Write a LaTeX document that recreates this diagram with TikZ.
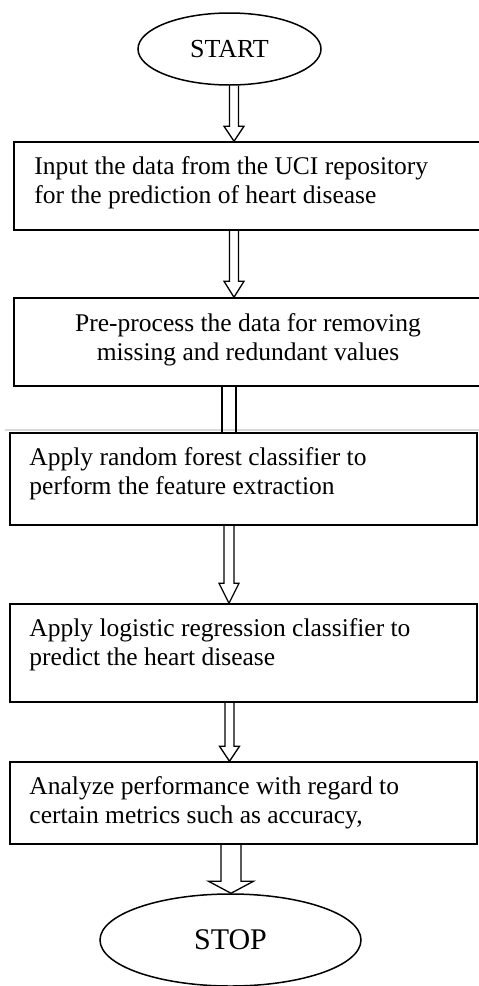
\documentclass[tikz,border=0pt]{standalone}
\usepackage{fontspec}
\setmainfont{Liberation Serif}
\usetikzlibrary{shapes.geometric,calc}
\tikzset{
  boxnode/.style={draw, rectangle, line width=1.5pt, inner sep=0pt},
  txt/.style={inner sep=0pt, anchor=north west, align=left, font=\fontsize{25.5}{29}\selectfont},
  term/.style={draw, ellipse, line width=1.5pt, inner sep=0pt},
  hollow/.style={draw, line width=1.3pt, line join=miter},
}
\newcommand{\hollowarr}[6]{%
  \draw[hollow] let \p1=(#1.south), \p2=(#2.north) in
  (#3pt-#4pt,\y1) -- (#3pt-#4pt,\y2+#6pt) -- (#3pt-#5pt,\y2+#6pt) -- (#3pt,\y2)
  -- (#3pt+#5pt,\y2+#6pt) -- (#3pt+#4pt,\y2+#6pt) -- (#3pt+#4pt,\y1);}
\begin{document}
\begin{tikzpicture}
\useasboundingbox (0pt,0pt) rectangle (479pt,-986pt);
\clip (0pt,0pt) rectangle (479pt,-986pt);
\fill[white] (0pt,0pt) rectangle (479pt,-986pt);
\draw[black!15, line width=1.5pt] (5pt,-430pt) -- (479pt,-430pt);

\node[term, minimum width=183pt, minimum height=72pt, font=\fontsize{26}{30}\selectfont] (start) at (229.5pt,-49pt) {START};

\node[boxnode, minimum width=467pt, minimum height=88pt] (b1) at (247.5pt,-186pt) {};
\node[txt] (t1) at ($(b1.north west)+(21pt,-12.7pt)$) {\strut Input the data from the UCI repository\\\strut for the prediction of heart disease};

\node[boxnode, minimum width=468pt, minimum height=88pt] (b2) at (248pt,-342pt) {};
\node[txt, anchor=north, align=center] (t2) at ($(b2.north)+(0pt,-13.7pt)$) {\strut Pre-process the data for removing\\\strut missing and redundant values};

\node[boxnode, minimum width=467pt, minimum height=92pt] (b3) at (243.5pt,-479pt) {};
\node[txt] (t3) at ($(b3.north west)+(20pt,-12.4pt)$) {\strut Apply random forest classifier to\\\strut perform the feature extraction};

\node[boxnode, minimum width=467pt, minimum height=98pt] (b4) at (243.5pt,-653pt) {};
\node[txt] (t4) at ($(b4.north west)+(20pt,-12.7pt)$) {\strut Apply logistic regression classifier to\\\strut predict the heart disease};

\node[boxnode, minimum width=467pt, minimum height=82pt] (b5) at (243.5pt,-803pt) {};
\node[txt] (t5) at ($(b5.north west)+(20pt,-12.7pt)$) {\strut Analyze performance with regard to\\\strut certain metrics such as accuracy,};

\node[term, minimum width=261pt, minimum height=92pt, font=\fontsize{30}{34}\selectfont] (stop) at (230.5pt,-940pt) {STOP};

\hollowarr{start}{b1}{234}{4.5}{10}{15}
\hollowarr{b1}{b2}{234}{4.5}{10}{16}
\draw[hollow] let \p1=(b2.south), \p2=(b3.north) in
  (222pt,\y1) -- (222pt,\y2) (236pt,\y1) -- (236pt,\y2);
\hollowarr{b3}{b4}{229}{5}{10}{20}
\hollowarr{b4}{b5}{229.5}{4.5}{10}{15}
\hollowarr{b5}{stop}{231}{10}{22.5}{12}
\end{tikzpicture}
\end{document}
